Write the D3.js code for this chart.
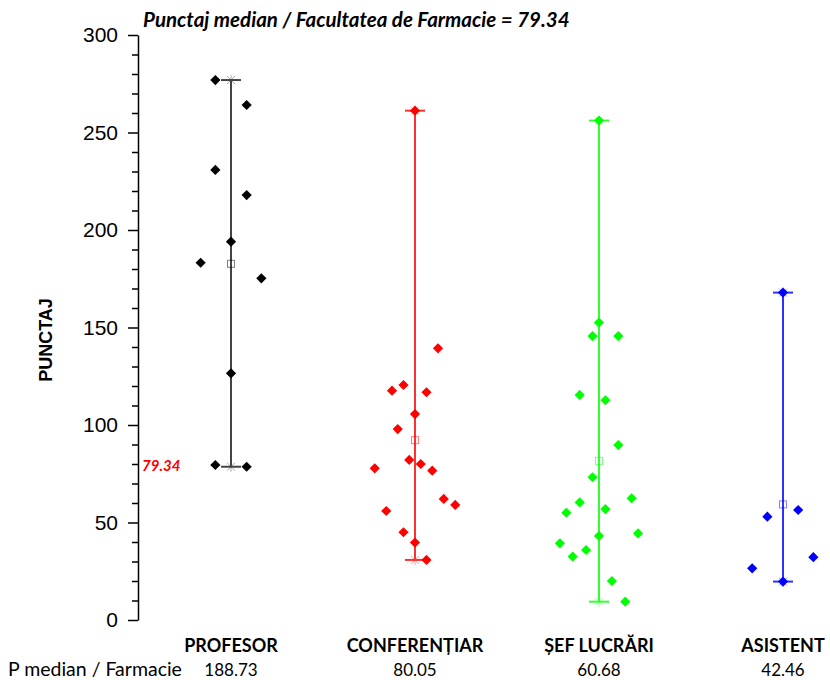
<!DOCTYPE html>
<html>
<head>
<meta charset="utf-8">
<script src="https://cdn.jsdelivr.net/npm/d3@7"></script>
<style>
  html, body { margin: 0; padding: 0; background: #fff; }
  svg { display: block; }
</style>
</head>
<body>
<svg id="chart" width="830" height="680"></svg>
<script>
// ---------- DATA ----------
const categories = ["PROFESOR", "CONFERENȚIAR", "ȘEF LUCRĂRI", "ASISTENT"];
const medianValues = ["188.73", "80.05", "60.68", "42.46"];
const overallMedian = 79.34;
const titleText = "Punctaj median / Facultatea de Farmacie = 79.34";
const rowLabel = "P median / Farmacie";
const yLabel = "PUNCTAJ";
const yTicks = [0, 50, 100, 150, 200, 250, 300];

const profesorValues = [276.9, 264.1, 230.8, 217.9, 194.0, 183.2, 175.2, 126.5, 79.5, 78.6];
const profesorJitter = [-0.34, 0.34, -0.34, 0.34, 0, -0.66, 0.66, 0, -0.34, 0.34];

const conferentiarValues = [261.2, 139.3, 120.5, 117.6, 116.8, 105.6, 97.9, 82.1, 80.0, 77.8, 76.6, 62.1, 59.0, 55.9, 45.0, 39.7, 30.8];
const conferentiarJitter = [0, 0.5, -0.25, -0.5, 0.25, 0, -0.375, -0.125, 0.125, -0.875, 0.375, 0.625, 0.875, -0.625, -0.25, 0, 0.25];

const sefValues = [256.1, 152.5, 145.6, 145.6, 115.4, 112.7, 89.7, 73.2, 62.4, 60.3, 56.9, 55.0, 44.4, 43.1, 39.3, 35.9, 32.5, 20.0, 9.4];
const sefJitter = [0, 0, -0.14, 0.42, -0.42, 0.14, 0.42, -0.14, 0.71, -0.42, 0.14, -0.71, 0.85, 0, -0.85, -0.28, -0.57, 0.28, 0.57];

const asistentValues = [167.9, 56.4, 53.0, 32.2, 26.5, 19.7];
const asistentJitter = [0, 0.33, -0.34, 0.66, -0.67, 0];

const groupValues = [profesorValues, conferentiarValues, sefValues, asistentValues];
const groupJitter = [profesorJitter, conferentiarJitter, sefJitter, asistentJitter];
const groupColors = ["#000000", "#ff0000", "#00ff00", "#0000ff"];
const lineColors = ["#444444", "#ff3030", "#30ff30", "#3030ff"];

// ---------- LAYOUT ----------
const svg = d3.select("#chart");
const axisX = 138;
const y = d3.scaleLinear().domain([0, 300]).range([620, 35]);
const x = d3.scalePoint().domain(categories).range([231, 783]);
const jitter = d3.scaleLinear().domain([-1, 1]).range([-46, 46]);

const calibri = "Lato, 'Open Sans', sans-serif";
const arial = "'Liberation Sans', Arial, sans-serif";

// Title
svg.append("text")
  .attr("x", 143).attr("y", 27)
  .attr("font-family", calibri).attr("font-weight", "bold").attr("font-style", "italic")
  .attr("font-size", 20.5).attr("fill", "#000")
  .text(titleText);

// Y axis (minor ticks)
const minorTicks = d3.range(0, 301, 10).filter(v => v % 50 !== 0);
svg.append("g")
  .attr("transform", `translate(${axisX},0)`)
  .call(d3.axisLeft(y).tickValues(minorTicks).tickSize(6).tickSizeOuter(0).tickFormat(""))
  .call(g => g.select(".domain").remove())
  .call(g => g.selectAll("line").attr("stroke", "#000").attr("stroke-width", 1.5));

// Y axis (major)
const yAxis = svg.append("g")
  .attr("transform", `translate(${axisX},0)`)
  .call(d3.axisLeft(y).tickValues(yTicks).tickSize(10).tickSizeOuter(0).tickPadding(10));
yAxis.select(".domain").attr("stroke", "#000").attr("stroke-width", 1.5);
yAxis.selectAll(".tick line").attr("stroke", "#000").attr("stroke-width", 1.5);
yAxis.selectAll(".tick text")
  .attr("font-family", arial).attr("font-size", 21).attr("fill", "#000");

// Y label
svg.append("text")
  .attr("transform", `translate(52,340) rotate(-90)`)
  .attr("text-anchor", "middle")
  .attr("font-family", arial).attr("font-weight", "bold").attr("font-size", 18)
  .attr("fill", "#000")
  .text(yLabel);

// overall median label
svg.append("text")
  .attr("x", axisX + 4).attr("y", y(overallMedian))
  .attr("dy", "0.35em")
  .attr("font-family", calibri).attr("font-weight", "bold").attr("font-style", "italic")
  .attr("font-size", 15).attr("fill", "#ff0000")
  .text(overallMedian.toFixed(2));

// Groups
const diamond = d3.symbol().type(d3.symbolSquare).size(52)();
categories.forEach((cat, i) => {
  const vals = groupValues[i];
  const jit = groupJitter[i];
  const cx = x(cat);
  const [mn, mx] = d3.extent(vals);
  const mean = d3.mean(vals);
  const g = svg.append("g");
  const lc = lineColors[i];

  // whisker
  g.append("line")
    .attr("x1", cx).attr("x2", cx).attr("y1", y(mn)).attr("y2", y(mx))
    .attr("stroke", lc).attr("stroke-width", 2);
  [mn, mx].forEach(v => {
    g.append("line")
      .attr("x1", cx - 10).attr("x2", cx + 10).attr("y1", y(v)).attr("y2", y(v))
      .attr("stroke", lc).attr("stroke-width", 2);
    // x marker
    g.append("path")
      .attr("d", `M${cx - 4},${y(v) - 4}L${cx + 4},${y(v) + 4}M${cx - 4},${y(v) + 4}L${cx + 4},${y(v) - 4}M${cx},${y(v) - 5}L${cx},${y(v) + 5}`)
      .attr("stroke", lc).attr("stroke-opacity", 0.45).attr("stroke-width", 1).attr("fill", "none");
  });
  // mean square
  g.append("rect")
    .attr("x", cx - 3.5).attr("y", y(mean) - 3.5).attr("width", 7).attr("height", 7)
    .attr("fill", "none").attr("stroke", groupColors[i]).attr("stroke-opacity", 0.5).attr("stroke-width", 1);

  // points
  g.selectAll("path.pt").data(vals).join("path")
    .attr("class", "pt")
    .attr("d", diamond)
    .attr("transform", (d, k) => `translate(${cx + jitter(jit[k])},${y(d)}) rotate(45)`)
    .attr("fill", groupColors[i]);

  // category label
  svg.append("text")
    .attr("x", cx).attr("y", 652)
    .attr("text-anchor", "middle")
    .attr("font-family", calibri).attr("font-weight", "bold").attr("font-size", 18)
    .attr("fill", "#000")
    .text(cat);

  // median value
  svg.append("text")
    .attr("x", cx).attr("y", 676)
    .attr("text-anchor", "middle")
    .attr("font-family", calibri).attr("font-size", 17)
    .attr("fill", "#000")
    .text(medianValues[i]);
});

svg.append("text")
  .attr("x", 8).attr("y", 676)
  .attr("font-family", calibri).attr("font-size", 19.5)
  .attr("fill", "#000")
  .text(rowLabel);
</script>
</body>
</html>
